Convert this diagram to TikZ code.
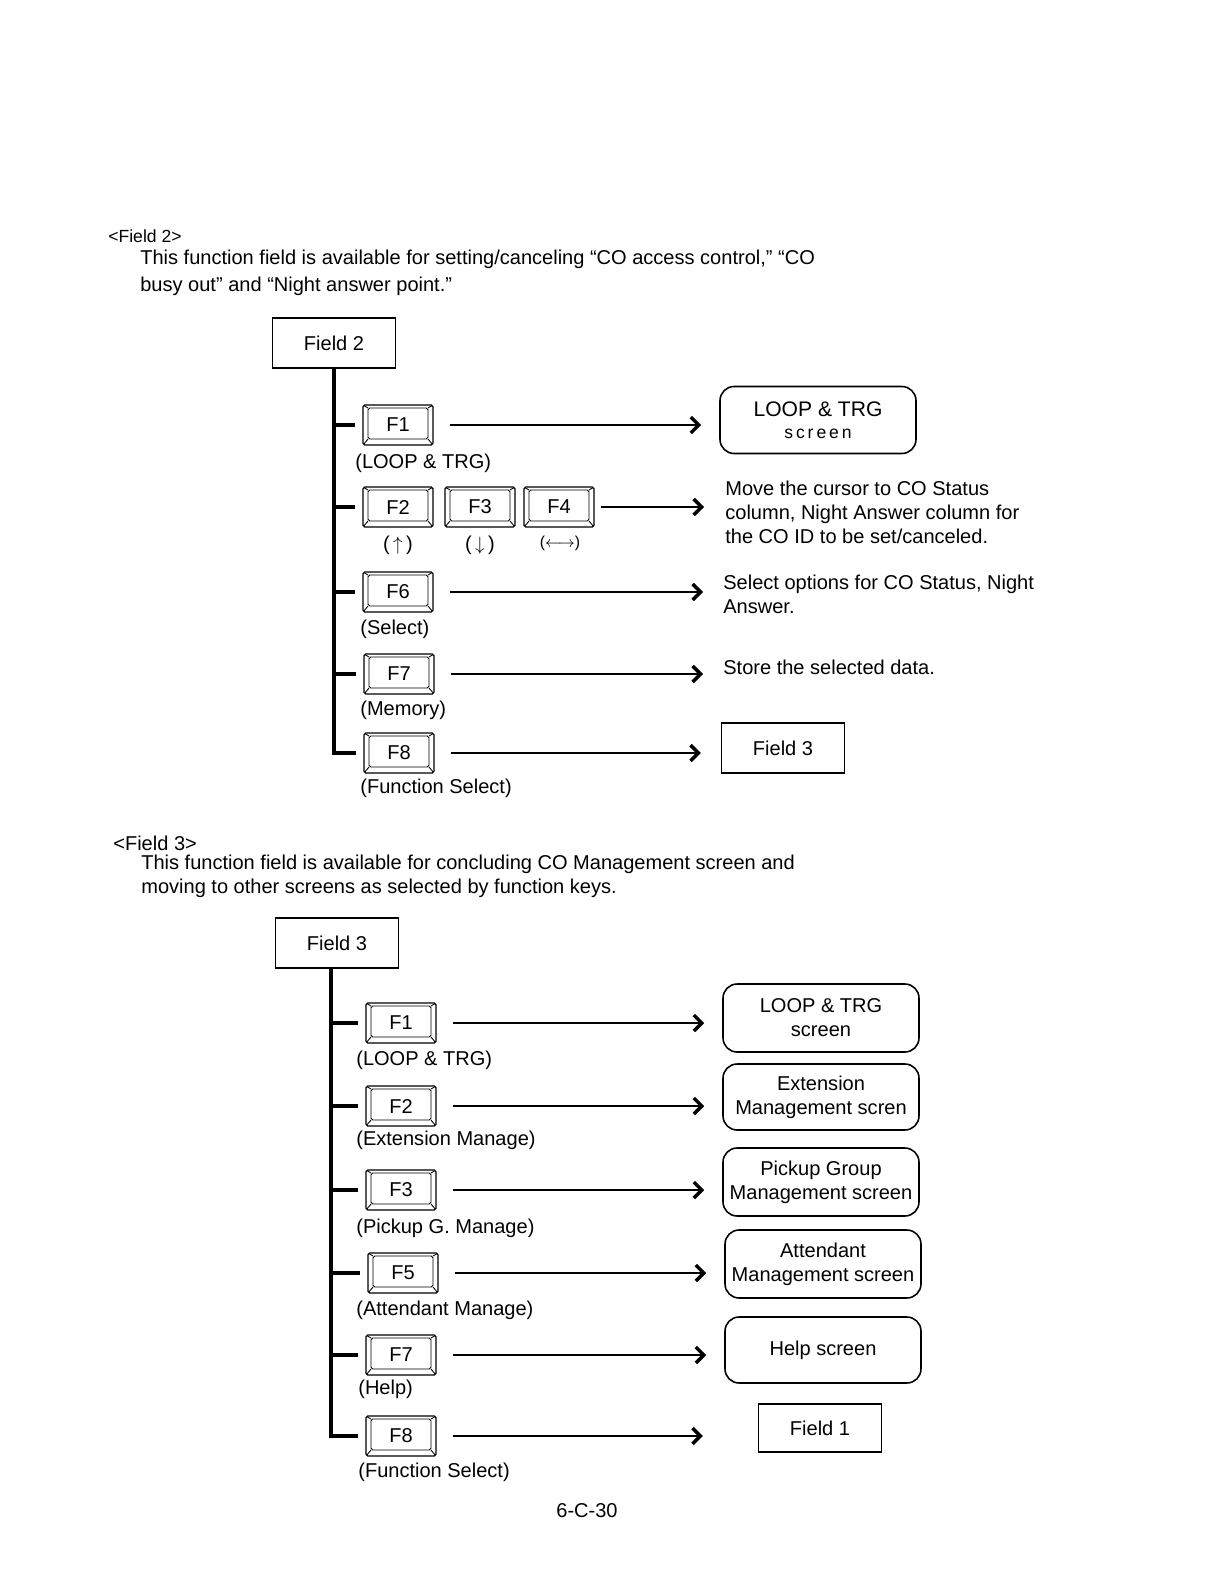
\documentclass[tikz,border=0pt]{standalone}
\usepackage{fontspec}
\setmainfont{Liberation Sans}
\usetikzlibrary{arrows.meta}
\begin{document}
\begin{tikzpicture}[x=0.02cm,y=-0.02cm,
  font=\fontsize{11.4}{13.6}\selectfont,
  txt/.style={inner sep=0pt, anchor=west},
  para/.style={inner sep=0pt, anchor=north west, align=left},
  fieldbox/.style={draw, line width=0.7pt, minimum width=2.46cm, minimum height=1cm, inner sep=0pt},
  scrbox/.style={draw, line width=0.9pt, rounded corners=8pt, minimum width=3.92cm, minimum height=1.34cm, inner sep=0pt, align=center},
  trunk/.style={line width=1.8pt},
  arr/.style={line width=1.6pt, -{Straight Barb[length=4.5pt,width=9pt,line width=2pt]}},
  keycap/.style={draw, line width=0.7pt, rounded corners=1pt, minimum width=1.4cm, minimum height=0.8cm, inner sep=0pt,
    path picture={
      \draw[line width=0.5pt]
        ([xshift=0.1cm,yshift=0.12cm]path picture bounding box.south west) rectangle
        ([xshift=-0.1cm,yshift=-0.06cm]path picture bounding box.north east);
      \draw[line width=0.5pt]
        (path picture bounding box.south west) -- ([xshift=0.1cm,yshift=0.12cm]path picture bounding box.south west)
        (path picture bounding box.south east) -- ([xshift=-0.1cm,yshift=0.12cm]path picture bounding box.south east)
        (path picture bounding box.north west) -- ([xshift=0.1cm,yshift=-0.06cm]path picture bounding box.north west)
        (path picture bounding box.north east) -- ([xshift=-0.1cm,yshift=-0.06cm]path picture bounding box.north east);
    }},
]
\useasboundingbox (0,0) rectangle (1222,1586);

% ---------- Field 2 ----------
\node[txt, font=\fontsize{10}{12}\selectfont] (h2) at (108,236) {<Field 2>};
\node[txt] (p2a) at (140,259) {This function field is available for setting/canceling “CO access control,” “CO};
\node[txt] (p2b) at (140,286) {busy out” and “Night answer point.”};

\node[fieldbox] (fa) at (334,343) {Field 2};

\node[keycap] (a1) at (398,425) {F1};
\node[txt] (la1) at (355,463) {(LOOP \& TRG)};
\node[keycap] (a2) at (398,507) {F2};
\node[keycap] (a3) at (480,507) {F3};
\node[keycap] (a4) at (559,507) {F4};
\node[inner sep=0pt] (la2) at (398,545) {(\,$\uparrow$\,)};
\node[inner sep=0pt] (la3) at (480,545) {(\,$\downarrow$\,)};
\node[inner sep=0pt] (la4) at (560,543) {\fontsize{9}{10}\selectfont($\longleftrightarrow$)};
\node[keycap] (a6) at (398,592) {F6};
\node[txt] (la6) at (360,629) {(Select)};
\node[keycap] (a7) at (399,674) {F7};
\node[txt] (la7) at (360,710) {(Memory)};
\node[keycap] (a8) at (399,753) {F8};
\node[txt] (la8) at (360,788) {(Function Select)};

\node[scrbox] (ta1) at (818,420) {{\fontsize{12}{14}\selectfont LOOP \& TRG}\\[-1pt]{\fontsize{10}{12}\selectfont s\,c\,r\,e\,e\,n}};
\node[para] (ta2) at (725,481) {Move the cursor to CO Status\\column, Night Answer column for\\the CO ID to be set/canceled.};
\node[para] (ta6) at (723,575) {Select options for CO Status, Night\\Answer.};
\node[txt] (ta7) at (723,667) {Store the selected data.};
\node[fieldbox] (ta8) at (783,748) {Field 3};

\draw[trunk] (fa.south) -- (fa.south |- a8.west) -- ([xshift=-0.14cm]a8.west);
\foreach \k in {a1,a2,a6,a7}{
  \draw[trunk, shorten >=0.14cm] (fa.south |- \k.west) -- (\k.west);
}
\draw[arr, shorten <=0.32cm, shorten >=0.36cm] (a1.east) -- (a1.east -| ta1.west);
\draw[arr, shorten <=0.12cm, shorten >=0.42cm] (a4.east) -- (a4.east -| ta2.west);
\draw[arr, shorten <=0.32cm, shorten >=0.4cm] (a6.east) -- (a6.east -| ta6.west);
\draw[arr, shorten <=0.32cm, shorten >=0.4cm] (a7.east) -- (a7.east -| ta7.west);
\draw[arr, shorten <=0.32cm, shorten >=0.4cm] (a8.east) -- (a8.east -| ta8.west);

% ---------- Field 3 ----------
\node[txt] (h3) at (113,843) {<Field 3>};
\node[txt] (p3a) at (141,864) {This function field is available for concluding CO Management screen and};
\node[txt] (p3b) at (141,888) {moving to other screens as selected by function keys.};

\node[fieldbox] (fb) at (337,943) {Field 3};
\coordinate (tb) at ([xshift=-0.12cm]fb.south);

\node[keycap] (b1) at (401,1023) {F1};
\node[txt] (lb1) at (356,1060) {(LOOP \& TRG)};
\node[keycap] (b2) at (401,1106) {F2};
\node[txt] (lb2) at (356,1140) {(Extension Manage)};
\node[keycap] (b3) at (401,1190) {F3};
\node[txt] (lb3) at (356,1228) {(Pickup G. Manage)};
\node[keycap] (b5) at (403,1273) {F5};
\node[txt] (lb5) at (356,1310) {(Attendant Manage)};
\node[keycap] (b7) at (401,1355) {F7};
\node[txt] (lb7) at (358,1389) {(Help)};
\node[keycap] (b8) at (401,1436) {F8};
\node[txt] (lb8) at (358,1472) {(Function Select)};

\node[scrbox, minimum height=1.36cm] (tb1) at (821,1018) {LOOP \& TRG\\screen};
\node[scrbox, minimum height=1.32cm] (tb2) at (821,1097) {Extension\\Management scren};
\node[scrbox, minimum height=1.36cm] (tb3) at (821,1182) {Pickup Group\\Management screen};
\node[scrbox, minimum height=1.36cm] (tb5) at (823,1264) {Attendant\\Management screen};
\node[scrbox, minimum height=1.32cm] (tb7) at (823,1350) {Help screen};
\node[fieldbox, minimum height=0.96cm] (tb8) at (820,1428) {Field 1};

\draw[trunk] (tb) -- (tb |- b8.west) -- ([xshift=-0.14cm]b8.west);
\foreach \k in {b1,b2,b3,b5,b7}{
  \draw[trunk, shorten >=0.14cm] (tb |- \k.west) -- (\k.west);
}
\foreach \k/\t in {b1/tb1,b2/tb2,b3/tb3,b5/tb5,b7/tb7}{
  \draw[arr, shorten <=0.32cm, shorten >=0.36cm] (\k.east) -- (\k.east -| \t.west);
}
\draw[arr, shorten <=0.32cm, shorten >=1.1cm] (b8.east) -- (b8.east -| tb8.west);

\node[inner sep=0pt] (pg) at (587,1511) {6-C-30};
\end{tikzpicture}
\end{document}
